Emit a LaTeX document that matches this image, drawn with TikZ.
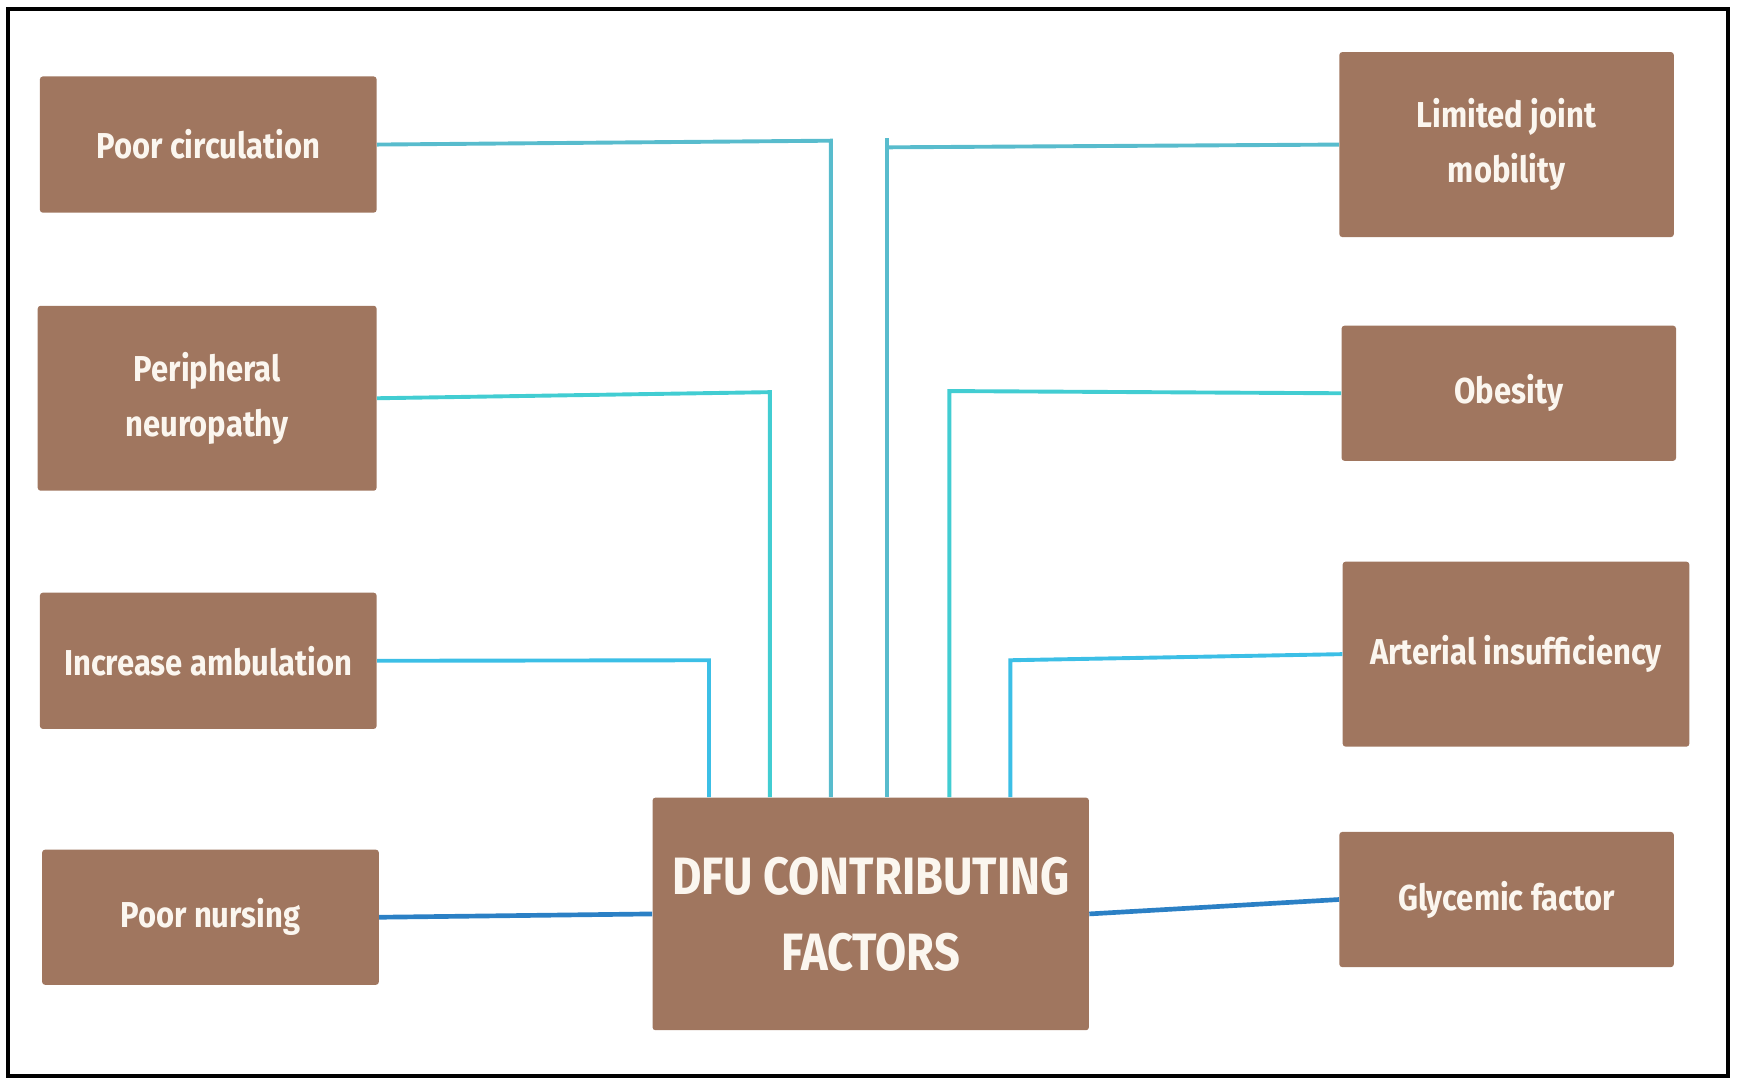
\documentclass[tikz,border=0pt]{standalone}
\usepackage{fontspec}
\newfontfamily\boxfont{Fira Sans}[FakeStretch=0.86]
\begin{document}
\begin{tikzpicture}[x=0.02cm,y=-0.02cm,
  box/.style={fill=boxbrown,rounded corners=1.5pt,inner sep=0pt,align=center,
    text=boxtext,font=\boxfont\bfseries\fontsize{18.5}{28.5}\selectfont},
  link/.style={line width=2pt},
  ]
\definecolor{boxbrown}{HTML}{A0765F}
\definecolor{boxtext}{HTML}{FBF6EF}
\definecolor{sky}{HTML}{3CBFE6}
\definecolor{teal1}{HTML}{42CDD2}
\definecolor{steel}{HTML}{58BCCD}
\definecolor{deepblue}{HTML}{2B80C5}
\useasboundingbox (0,0) rectangle (1568,978.5);
\draw[line width=2pt] (7,8) rectangle (1560,971);

\node[box,minimum width=6.08cm,minimum height=2.46cm] (pc) at (188,130.5) {Poor circulation};
\node[box,minimum width=6.12cm,minimum height=3.34cm] (pn) at (187,359.5) {Peripheral\\neuropathy};
\node[box,minimum width=6.08cm,minimum height=2.46cm] (ia) at (188,596.5) {Increase ambulation};
\node[box,minimum width=6.08cm,minimum height=2.44cm] (pnu) at (190,828) {Poor nursing};
\node[box,minimum width=6.04cm,minimum height=3.34cm] (lj) at (1360,130.5) {Limited joint\\mobility};
\node[box,minimum width=6.04cm,minimum height=2.44cm] (ob) at (1362,355) {Obesity};
\node[box,minimum width=6.26cm,minimum height=3.34cm] (ai) at (1368.5,590.5) {Arterial insufficiency};
\node[box,minimum width=6.04cm,minimum height=2.44cm] (gf) at (1360,812) {Glycemic factor};
\node[box,minimum width=7.88cm,minimum height=4.2cm,
  font=\boxfont\bfseries\fontsize{27}{39}\selectfont] (dfu) at (786,825) {DFU CONTRIBUTING\\FACTORS};

\coordinate (c1) at (750,127);
\coordinate (c2) at (695,354);
\coordinate (c3) at (640,596);
\coordinate (c4) at (801,133);
\coordinate (c4t) at (801,125);
\coordinate (c5) at (857,353);
\coordinate (c6) at (912,596);

\draw[link,steel] (pc.east) -- (c1) -- (c1 |- dfu.north);
\draw[link,teal1] (pn.east) -- (c2) -- (c2 |- dfu.north);
\draw[link,sky] (ia.east) -- (c3) -- (c3 |- dfu.north);
\draw[link,steel] (lj.west) -- (c4);
\draw[link,steel] (c4t) -- (c4 |- dfu.north);
\draw[link,teal1] (ob.west) -- (c5) -- (c5 |- dfu.north);
\draw[link,sky] (ai.west) -- (c6) -- (c6 |- dfu.north);
\draw[link,deepblue,line width=2.4pt] (pnu.east) -- (dfu.west);
\draw[link,deepblue,line width=2.4pt] (dfu.east) -- (gf.west);
\end{tikzpicture}
\end{document}
